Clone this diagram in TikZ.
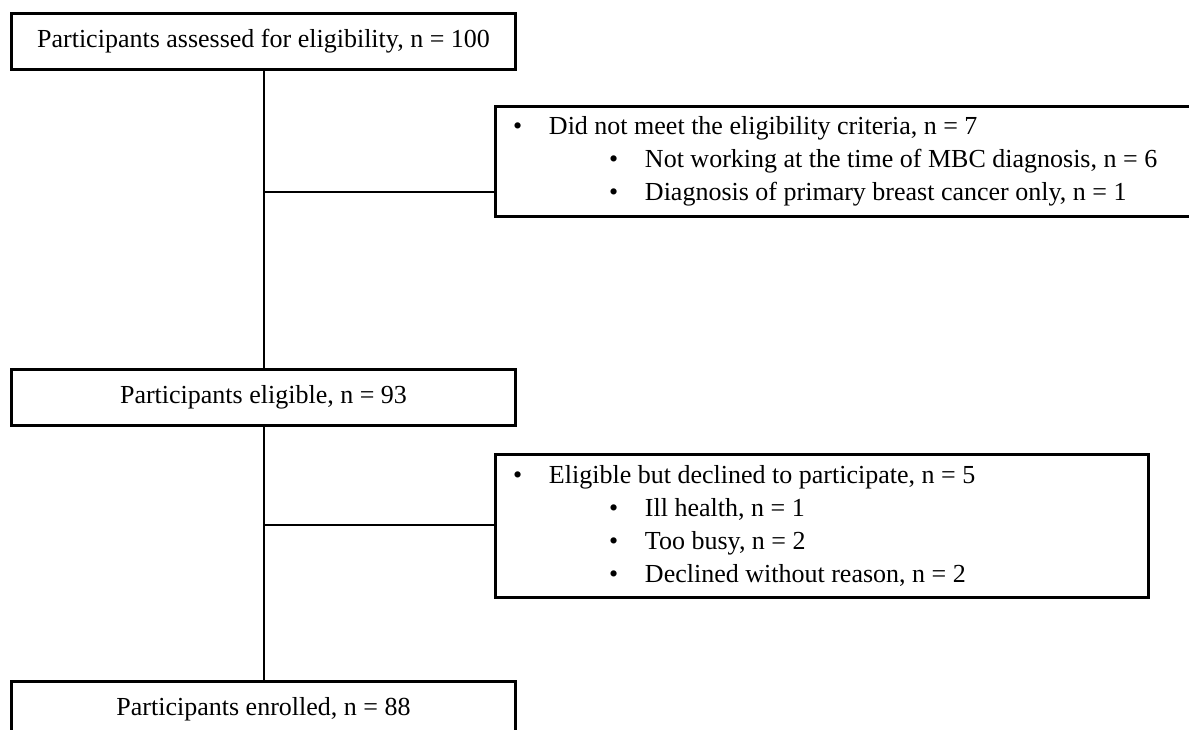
\documentclass[tikz,border=0pt]{standalone}
\usepackage{fontspec}
\setmainfont{Liberation Serif}
\usetikzlibrary{positioning, calc}

\newcommand{\bul}[2]{\hspace*{#1}\makebox[18pt][l]{\textbullet}#2}

\begin{document}
\begin{tikzpicture}[x=0.5pt, y=-0.5pt,
  stage/.style={rectangle, draw=black, line width=1.5pt, fill=white, align=center, font=\fontsize{13}{16}\selectfont, minimum width=252pt, minimum height=28pt, inner sep=0pt},
  excl/.style={rectangle, draw=black, line width=1.5pt, fill=white, align=flush left, font=\fontsize{13}{16.5}\selectfont, inner xsep=9pt, inner ysep=0pt, anchor=west},
  link/.style={line width=1pt, draw=black}]
  \clip (0,0) rectangle (1189,729);
  \node[stage] (pa) at (263.5,41) {Participants assessed for eligibility, n = 100};
  \node[stage] (pe) at (263.5,397) {Participants eligible, n = 93};
  \node[stage] (pn) at (263.5,709) {Participants enrolled, n = 88};
  \node[excl, text width=340pt, minimum height=55pt] (ex1) at (493.5,161.5) {
    \bul{0pt}{Did not meet the eligibility criteria, n = 7}\\
    \bul{48pt}{Not working at the time of MBC diagnosis, n = 6}\\
    \bul{48pt}{Diagnosis of primary breast cancer only, n = 1}
  };
  \node[excl, text width=308.5pt, minimum height=71.5pt] (ex2) at (493.5,526) {
    \bul{0pt}{Eligible but declined to participate, n = 5}\\
    \bul{48pt}{Ill health, n = 1}\\
    \bul{48pt}{Too busy, n = 2}\\
    \bul{48pt}{Declined without reason, n = 2}
  };
  \coordinate (b1) at ($(pa.south)!0.41!(pe.north)$);
  \coordinate (b2) at ($(pe.south)!0.39!(pn.north)$);
  \draw[link] (pa.south) -- (pe.north);
  \draw[link] (pe.south) -- (pn.north);
  \draw[link] (b1) -- (b1 -| ex1.west);
  \draw[link] (b2) -- (b2 -| ex2.west);
\end{tikzpicture}
\end{document}
